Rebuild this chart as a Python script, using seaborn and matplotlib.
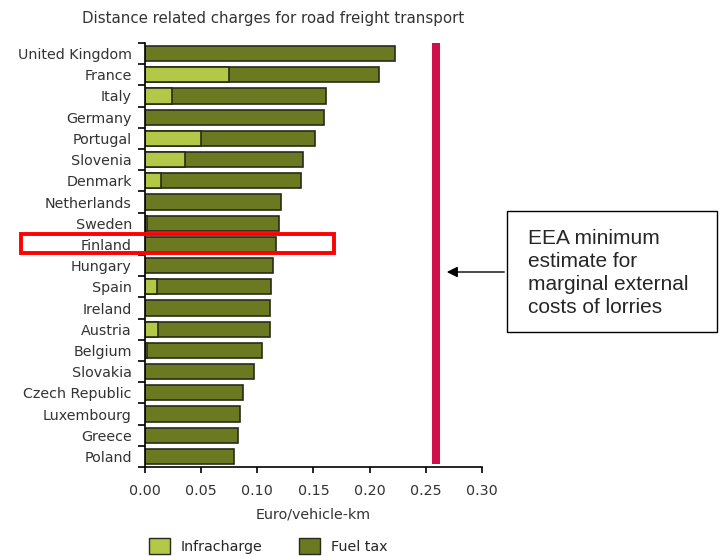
import numpy as np
import pandas as pd
import matplotlib.pyplot as plt
import matplotlib.patches as mpatches
import seaborn as sns

# ── data ──────────────────────────────────────────────────────────────────
countries = ['United Kingdom', 'France', 'Italy', 'Germany', 'Portugal',
             'Slovenia', 'Denmark', 'Netherlands', 'Sweden', 'Finland',
             'Hungary', 'Spain', 'Ireland', 'Austria', 'Belgium', 'Slovakia',
             'Czech Republic', 'Luxembourg', 'Greece', 'Poland']
infracharge = [0.000, 0.075, 0.024, 0.000, 0.050, 0.036, 0.014, 0.000, 0.002,
               0.000, 0.000, 0.011, 0.000, 0.012, 0.002, 0.000, 0.000, 0.000,
               0.000, 0.000]
fuel_tax = [0.223, 0.133, 0.137, 0.159, 0.101, 0.105, 0.125, 0.121, 0.117,
            0.117, 0.114, 0.101, 0.111, 0.099, 0.102, 0.097, 0.087, 0.085,
            0.083, 0.079]
eea_estimate = 0.259
x_ticks = [0.00, 0.05, 0.10, 0.15, 0.20, 0.25, 0.30]

INFRA_COL = '#b3c846'
FUEL_COL = '#6b7a20'
EDGE_COL = '#2a2a1a'
RED_COL = '#d0104c'
TXT_COL = '#333333'
FS = 10.3

df = pd.DataFrame({'country': countries,
                   'infra': infracharge,
                   'fuel': fuel_tax})
df['total'] = df['infra'] + df['fuel']

sns.set_style('ticks')
plt.rcParams['font.family'] = ['DejaVu Sans']

fig = plt.figure(figsize=(7.24, 5.56), dpi=100)
ax = fig.add_axes([0.2003, 0.160, 0.4654, 0.7627])

# stacked bars: total first (fuel tax colour), infracharge on top from zero
sns.barplot(data=df, x='total', y='country', color=FUEL_COL, saturation=1,
            edgecolor=EDGE_COL, linewidth=1.2, width=0.72, ax=ax)
sns.barplot(data=df, x='infra', y='country', color=INFRA_COL, saturation=1,
            edgecolor=EDGE_COL, linewidth=1.2, width=0.72, ax=ax)

n = len(countries)
ax.set_xlim(0, 0.30)
ax.set_ylim(n - 0.5, -0.5)
ax.set_xticks(x_ticks)
ax.set_xticklabels([f'{t:.2f}' for t in x_ticks], fontsize=FS, color=TXT_COL)
ax.set_yticks(np.arange(-0.5, n, 1), minor=True)
ax.tick_params(axis='y', which='major', length=0, labelsize=FS,
               labelcolor=TXT_COL, pad=9.5)
ax.tick_params(axis='y', which='minor', length=5, width=1.2, color='black')
ax.tick_params(axis='x', length=4, width=1.2, color='black', pad=8)
ax.set_xlabel('Euro/vehicle-km', fontsize=FS, color=TXT_COL, labelpad=7)
ax.set_ylabel('')
sns.despine(ax=ax)
for s in ['left', 'bottom']:
    ax.spines[s].set_color('black')
    ax.spines[s].set_linewidth(1.2)

fig.text(273 / 724, 1 - 18 / 556,
         'Distance related charges for road freight transport',
         fontsize=10.8, color=TXT_COL, ha='center', va='center')

# EEA minimum estimate line
ax.axvline(eea_estimate, ymin=0.008, ymax=1.0, color=RED_COL, lw=5.8,
           solid_capstyle='butt', zorder=5)

# highlight Finland
fig.patches.append(mpatches.Rectangle((21 / 724, 1 - 253 / 556),
                                      313 / 724, 19 / 556,
                                      transform=fig.transFigure,
                                      fill=False, edgecolor='#ff0000',
                                      lw=2.8, zorder=10))

# annotation box with arrow
fig.patches.append(mpatches.Rectangle((507 / 724, 1 - 332 / 556),
                                      210 / 724, 121 / 556,
                                      transform=fig.transFigure,
                                      fill=False, edgecolor='black', lw=1))
fig.text(528 / 724, 1 - 273 / 556,
         'EEA minimum\nestimate for\nmarginal external\ncosts of lorries',
         family='Liberation Sans', fontsize=15, va='center', ha='left',
         linespacing=1.28)
ax.annotate('', xy=(444 / 724, 1 - 272 / 556), xycoords='figure fraction',
            xytext=(507 / 724, 1 - 272 / 556), textcoords='figure fraction',
            arrowprops=dict(arrowstyle='-|>', color='black', lw=1,
                            mutation_scale=16))

handles = [mpatches.Patch(facecolor=INFRA_COL, edgecolor=EDGE_COL,
                          label='Infracharge'),
           mpatches.Patch(facecolor=FUEL_COL, edgecolor=EDGE_COL,
                          label='Fuel tax')]
fig.legend(handles=handles, ncol=2, frameon=False, fontsize=FS,
           loc='center left', bbox_to_anchor=(136 / 724, 1 - 546 / 556),
           handlelength=1.45, handleheight=1.45, handletextpad=0.75,
           columnspacing=2.6)

fig.savefig('out.png', dpi=100)
